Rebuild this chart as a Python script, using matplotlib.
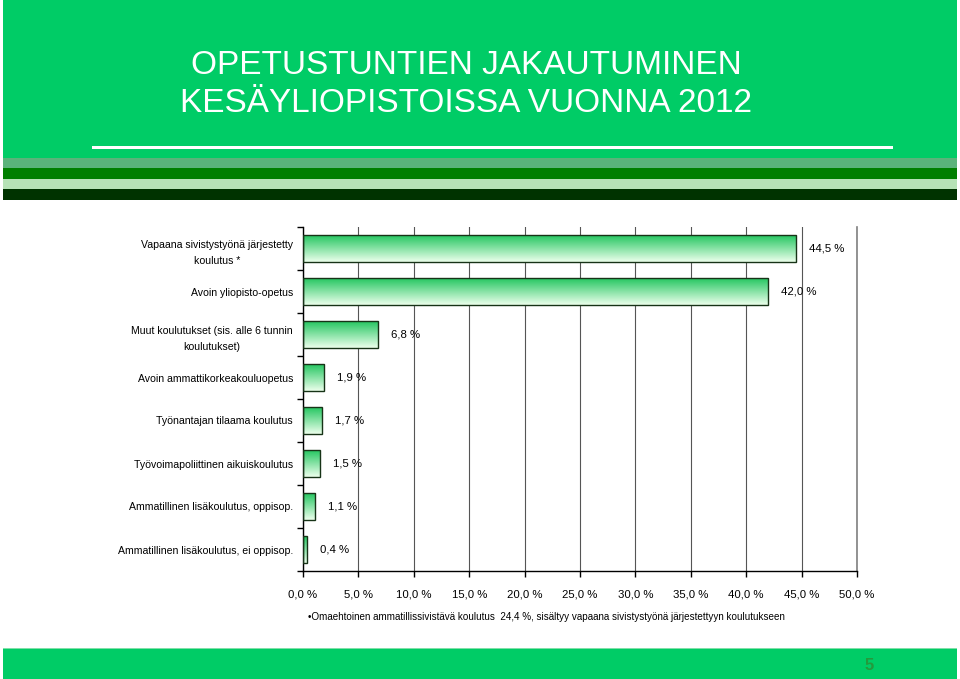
import numpy as np
import matplotlib
matplotlib.use('Agg')
import matplotlib.pyplot as plt
from matplotlib.colors import LinearSegmentedColormap
from matplotlib.patches import Rectangle
from matplotlib.ticker import FuncFormatter

plt.rcParams['font.family'] = ['Liberation Sans', 'DejaVu Sans']

# Data
categories = [
    'Vapaana sivistystyönä järjestetty\nkoulutus *',
    'Avoin yliopisto-opetus',
    'Muut koulutukset (sis. alle 6 tunnin\nkoulutukset)',
    'Avoin ammattikorkeakouluopetus',
    'Työnantajan tilaama koulutus',
    'Työvoimapoliittinen aikuiskoulutus',
    'Ammatillinen lisäkoulutus, oppisop.',
    'Ammatillinen lisäkoulutus, ei oppisop.',
]
shares = [44.5, 42.0, 6.8, 1.9, 1.7, 1.5, 1.1, 0.4]
x_ticks = [0, 5, 10, 15, 20, 25, 30, 35, 40, 45, 50]

title_lines = ['OPETUSTUNTIEN JAKAUTUMINEN', 'KESÄYLIOPISTOISSA VUONNA 2012']
footnote = ('•Omaehtoinen ammatillissivistävä koulutus  24,4 %, '
            'sisältyy vapaana sivistystyönä järjestettyyn koulutukseen')
page_no = '5'

W, H = 960, 679
fig = plt.figure(figsize=(W / 100, H / 100), dpi=100)
fig.patch.set_facecolor('white')


def px_rect(x0, y0, x1, y1, color):
    # rectangle given in pixel coords from top-left
    fig.patches.append(Rectangle((x0 / W, 1 - y1 / H), (x1 - x0) / W, (y1 - y0) / H,
                                 transform=fig.transFigure, facecolor=color,
                                 edgecolor='none', zorder=0))


# slide header
px_rect(3, 0, 957, 158, '#00cc66')
px_rect(3, 158, 957, 168, '#5ab37a')
px_rect(3, 168, 957, 179, '#007f00')
px_rect(3, 179, 957, 189, '#b6e2b6')
px_rect(3, 189, 957, 200, '#003300')
px_rect(92, 146, 893, 149, 'white')
# slide footer
px_rect(3, 648, 957, 679, '#00cc66')
px_rect(3, 648, 957, 649, '#7fe0a8')

fig.text(466 / W, 1 - 66 / H, title_lines[0], color='white', fontsize=24,
         ha='center', va='center')
fig.text(466 / W, 1 - 104 / H, title_lines[1], color='white', fontsize=24,
         ha='center', va='center')
fig.text(308 / W, 1 - 617 / H, footnote, fontsize=7.1, ha='left', va='center')
fig.text(869 / W, 1 - 665 / H, page_no, fontsize=12, color='#249a3c',
         ha='center', va='center', fontweight='bold')

# chart
ax = fig.add_axes([303 / W, 1 - 571 / H, 554 / W, 344 / H])
ax.set_facecolor('none')
y = np.arange(len(categories))
bar_h = 0.63

bars = ax.barh(y, shares, height=bar_h, color='none', edgecolor='#173317',
               linewidth=1.0, zorder=3)

cmap = LinearSegmentedColormap.from_list('grn', ['#1ec45c', '#ebffeb'])
grad = np.linspace(0, 1, 64).reshape(-1, 1)
for yi, v, b in zip(y, shares, bars):
    im = ax.imshow(grad, extent=(0, v, yi + bar_h / 2, yi - bar_h / 2),
                   cmap=cmap, aspect='auto', origin='upper', zorder=2)
    im.set_clip_path(b)
    ax.annotate(f'{v:.1f} %'.replace('.', ','), xy=(v, yi), xytext=(9.4, 0),
                textcoords='offset points', ha='left', va='center', fontsize=8.2)

ax.set_xlim(0, 50)
ax.set_ylim(len(categories) - 0.5, -0.5)

ax.set_xticks(x_ticks)
ax.xaxis.set_major_formatter(FuncFormatter(lambda v, p: f'{v:.1f} %'.replace('.', ',')))
ax.tick_params(axis='x', direction='out', length=4.3, width=1, labelsize=8.2, pad=9)

ax.set_yticks(np.arange(-0.5, len(categories), 1.0))
ax.set_yticklabels([])
ax.set_yticks(y, minor=True)
ax.set_yticklabels(categories, minor=True, fontsize=7.6, multialignment='center',
                   linespacing=1.75)
ax.tick_params(axis='y', which='major', direction='out', length=4.3, width=1)
ax.tick_params(axis='y', which='minor', length=0, pad=7.2)

ax.xaxis.grid(True, color='#555555', linewidth=0.8)
ax.set_axisbelow(True)
ax.spines['top'].set_visible(False)
ax.spines['right'].set_color('#808080')
ax.spines['right'].set_linewidth(1.2)
ax.spines['left'].set_linewidth(1)
ax.spines['bottom'].set_linewidth(1)

fig.savefig('out.png', dpi=100)
